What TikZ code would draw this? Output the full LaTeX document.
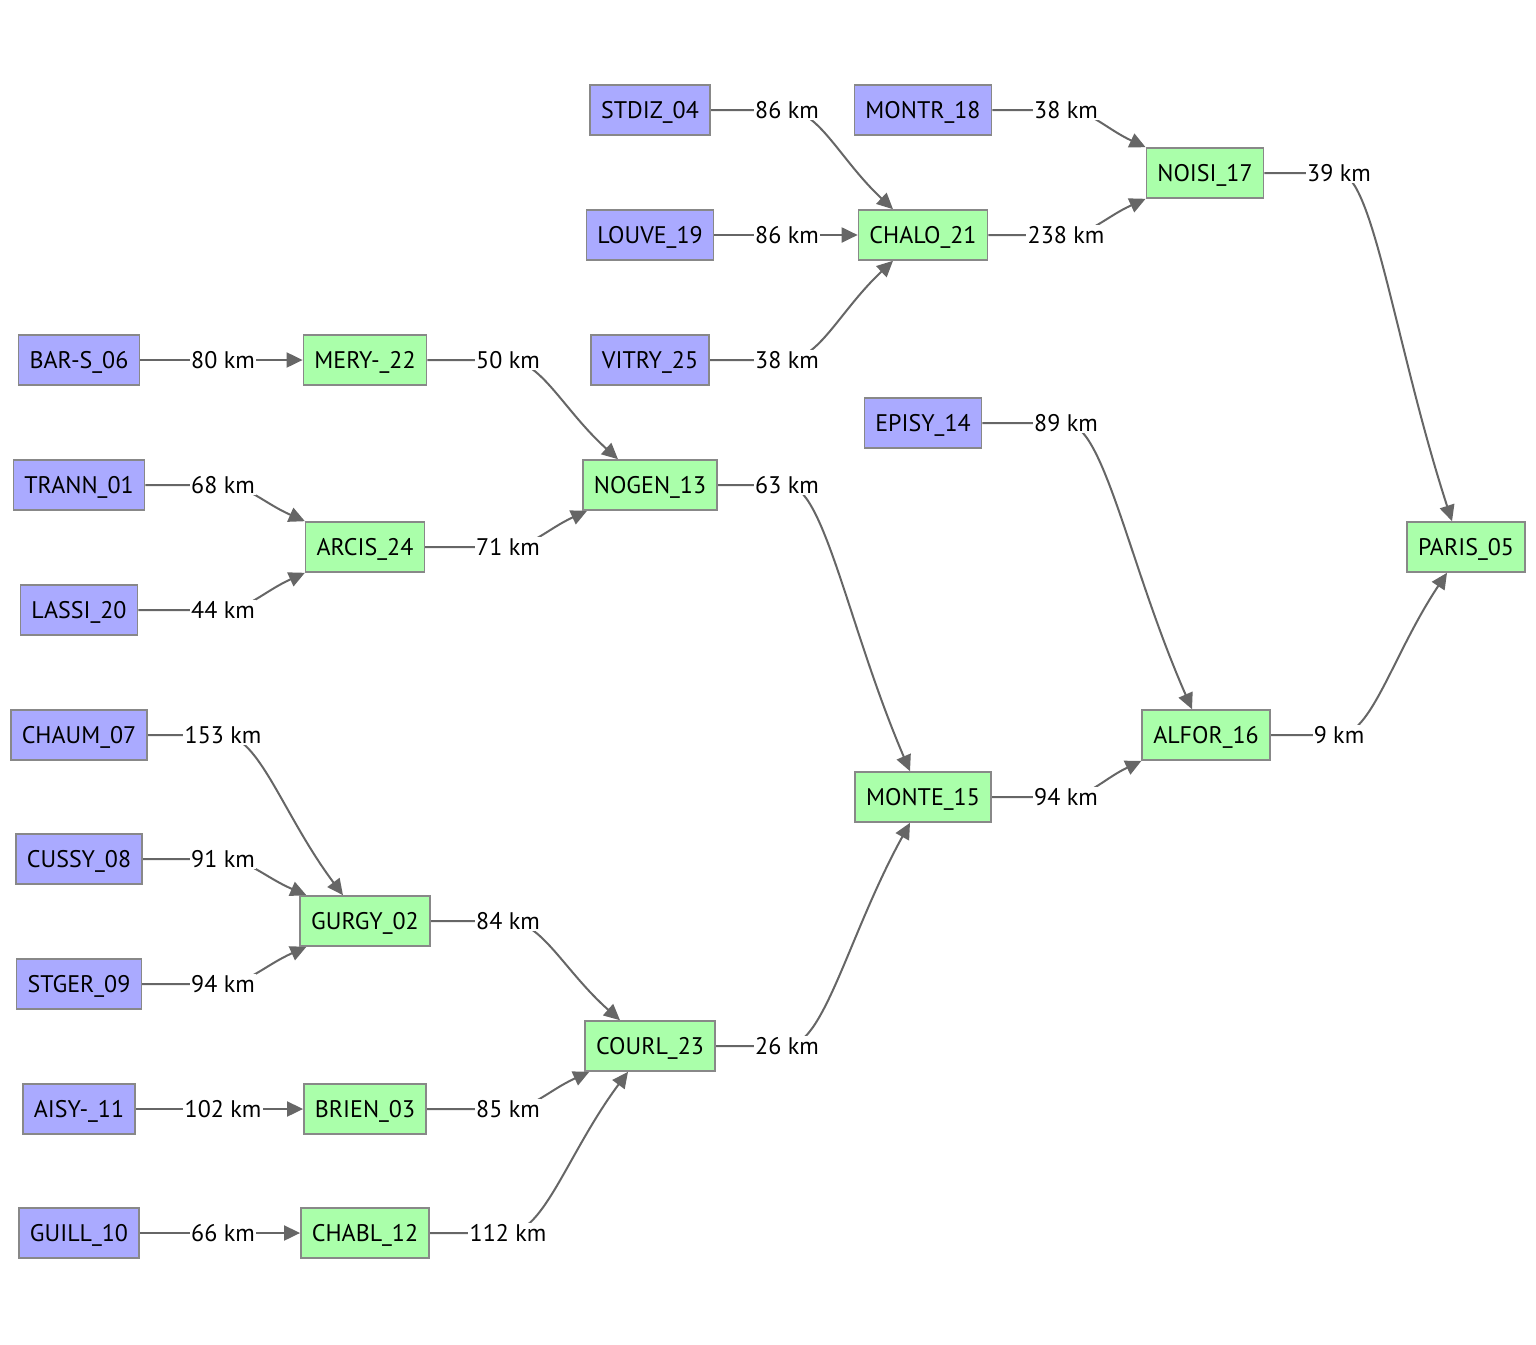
\documentclass[tikz,border=0pt]{standalone}
\usepackage{fontspec}
\setmainfont{PT Sans}
\usetikzlibrary{arrows.meta,calc,backgrounds}
\definecolor{srcfill}{HTML}{AAAAFF}
\definecolor{hubfill}{HTML}{AAFFAA}
\definecolor{boxline}{HTML}{888888}
\definecolor{edgecol}{HTML}{666666}
\tikzset{
 box/.style={draw=boxline, line width=0.8pt, minimum height=25pt, inner xsep=5.5pt, inner ysep=0pt, text height=10pt, text depth=1.6pt, font=\fontsize{12}{14}\selectfont},
 srcbox/.style={box, fill=srcfill},
 hubbox/.style={box, fill=hubfill},
 lbl/.style={fill=white, inner sep=0.6pt, font=\fontsize{12}{14}\selectfont},
 edge/.style={draw=edgecol, line width=1pt, -{Triangle[length=8pt,width=7.5pt]}},
}
\newcommand\cedge[3]{\draw[edge] (#1.east) -- (#2.center) .. controls ($(#2.center)!0.3!(#2.center -| #3)$) and ($(#3)!0.5!(#2.center)$) .. (#3);}
\newcommand\sedge[3]{\draw[edge] (#1.east) -- (#2.center) -- (#3.west);}
\begin{document}
\begin{tikzpicture}[x=0.5pt,y=-0.5pt]
\useasboundingbox (0,0) rectangle (1536,1344);
% source nodes
\node[srcbox] (stdiz) at (650,110) {STDIZ\_04};
\node[srcbox] (montr) at (923,110) {MONTR\_18};
\node[srcbox] (louve) at (650,235) {LOUVE\_19};
\node[srcbox] (vitry) at (650,360) {VITRY\_25};
\node[srcbox] (bars) at (79,360) {BAR-S\_06};
\node[srcbox] (trann) at (79,485) {TRANN\_01};
\node[srcbox] (lassi) at (79,610) {LASSI\_20};
\node[srcbox] (episy) at (923,423) {EPISY\_14};
\node[srcbox] (chaum) at (79,735) {CHAUM\_07};
\node[srcbox] (cussy) at (79,859) {CUSSY\_08};
\node[srcbox] (stger) at (79,984) {STGER\_09};
\node[srcbox] (aisy) at (79,1109) {AISY-\_11};
\node[srcbox] (guill) at (79,1233) {GUILL\_10};
% hub nodes
\node[hubbox] (chalo) at (923,235) {CHALO\_21};
\node[hubbox] (noisi) at (1205,173) {NOISI\_17};
\node[hubbox] (mery) at (365,360) {MERY-\_22};
\node[hubbox] (nogen) at (650,485) {NOGEN\_13};
\node[hubbox] (arcis) at (365,547) {ARCIS\_24};
\node[hubbox] (paris) at (1466,547) {PARIS\_05};
\node[hubbox] (alfor) at (1206,735) {ALFOR\_16};
\node[hubbox] (monte) at (923,797) {MONTE\_15};
\node[hubbox] (gurgy) at (365,921) {GURGY\_02};
\node[hubbox] (courl) at (650,1046) {COURL\_23};
\node[hubbox] (brien) at (365,1109) {BRIEN\_03};
\node[hubbox] (chabl) at (365,1233) {CHABL\_12};
% labels
\node[lbl] (l1) at (787,110) {86 km};
\node[lbl] (l2) at (1066,110) {38 km};
\node[lbl] (l3) at (787,235) {86 km};
\node[lbl] (l4) at (1066,235) {238 km};
\node[lbl] (l5) at (787,360) {38 km};
\node[lbl] (l6) at (1339,173) {39 km};
\node[lbl] (l7) at (223,360) {80 km};
\node[lbl] (l8) at (508,360) {50 km};
\node[lbl] (l9) at (223,485) {68 km};
\node[lbl] (l10) at (508,547) {71 km};
\node[lbl] (l11) at (223,610) {44 km};
\node[lbl] (l12) at (787,485) {63 km};
\node[lbl] (l13) at (1066,423) {89 km};
\node[lbl] (l14) at (1339,735) {9 km};
\node[lbl] (l15) at (1066,797) {94 km};
\node[lbl] (l16) at (223,735) {153 km};
\node[lbl] (l17) at (223,859) {91 km};
\node[lbl] (l18) at (223,984) {94 km};
\node[lbl] (l19) at (508,921) {84 km};
\node[lbl] (l20) at (787,1046) {26 km};
\node[lbl] (l21) at (223,1109) {102 km};
\node[lbl] (l22) at (508,1109) {85 km};
\node[lbl] (l23) at (223,1233) {66 km};
\node[lbl] (l24) at (508,1233) {112 km};
% target points
\coordinate (t1) at ($(chalo.north)+(-30,0)$);
\coordinate (t2) at (noisi.north west);
\coordinate (t4) at (noisi.south west);
\coordinate (t5) at ($(chalo.south)+(-30,0)$);
\coordinate (t6) at ($(paris.north)+(-14,0)$);
\coordinate (t8) at ($(nogen.north)+(-32,0)$);
\coordinate (t9) at (arcis.north west);
\coordinate (t10) at ($(nogen.south west)+(5,0)$);
\coordinate (t11) at (arcis.south west);
\coordinate (t12) at ($(monte.north)+(-13,0)$);
\coordinate (t13) at ($(alfor.north)+(-14,0)$);
\coordinate (t14) at ($(paris.south)+(-19,0)$);
\coordinate (t15) at (alfor.south west);
\coordinate (t16) at ($(gurgy.north)+(-22,0)$);
\coordinate (t17) at ($(gurgy.north west)+(7,0)$);
\coordinate (t18) at ($(gurgy.south west)+(7,0)$);
\coordinate (t19) at ($(courl.north)+(-30,0)$);
\coordinate (t20) at ($(monte.south)+(-13,0)$);
\coordinate (t22) at ($(courl.south west)+(5,0)$);
\coordinate (t24) at ($(courl.south)+(-22,0)$);
\begin{scope}[on background layer]
\cedge{stdiz}{l1}{t1}
\cedge{montr}{l2}{t2}
\sedge{louve}{l3}{chalo}
\cedge{chalo}{l4}{t4}
\cedge{vitry}{l5}{t5}
\cedge{noisi}{l6}{t6}
\sedge{bars}{l7}{mery}
\cedge{mery}{l8}{t8}
\cedge{trann}{l9}{t9}
\cedge{arcis}{l10}{t10}
\cedge{lassi}{l11}{t11}
\cedge{nogen}{l12}{t12}
\cedge{episy}{l13}{t13}
\cedge{alfor}{l14}{t14}
\cedge{monte}{l15}{t15}
\cedge{chaum}{l16}{t16}
\cedge{cussy}{l17}{t17}
\cedge{stger}{l18}{t18}
\cedge{gurgy}{l19}{t19}
\cedge{courl}{l20}{t20}
\sedge{aisy}{l21}{brien}
\cedge{brien}{l22}{t22}
\sedge{guill}{l23}{chabl}
\cedge{chabl}{l24}{t24}
\end{scope}
\end{tikzpicture}
\end{document}
